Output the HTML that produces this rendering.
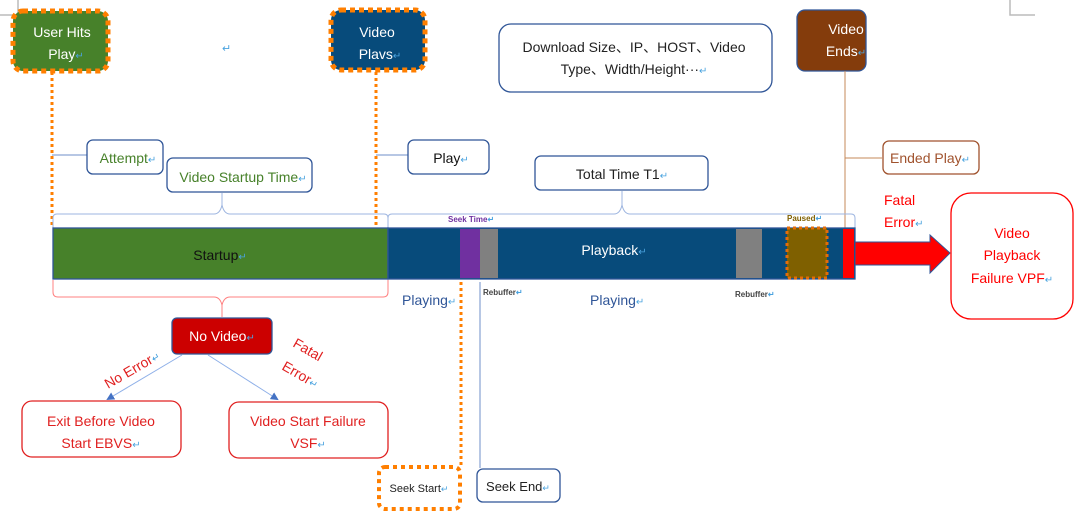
<!DOCTYPE html>
<html><head><meta charset="utf-8"><style>
html,body{margin:0;padding:0;background:#fff;width:1080px;height:521px;overflow:hidden}
svg{display:block;font-family:"Liberation Sans","Noto Sans CJK SC",sans-serif}
.r{fill:#4aa3df}
</style></head><body>
<svg width="1080" height="521" viewBox="0 0 1080 521" xmlns="http://www.w3.org/2000/svg">
<defs>
<marker id="ah" markerWidth="8" markerHeight="8" refX="6" refY="4" orient="auto"><path d="M0,0 L8,4 L0,8 z" fill="#4472c4"/></marker>
</defs>
<path d="M0,15 H18 V0" fill="none" stroke="#bbb" stroke-width="1.5"/>
<path d="M1010,0 V15 H1035" fill="none" stroke="#bbb" stroke-width="1.5"/>

<line x1="52" y1="72" x2="52" y2="228" stroke="#ff7f00" stroke-width="3" stroke-dasharray="3,3"/>
<line x1="376" y1="72" x2="376" y2="228" stroke="#ff7f00" stroke-width="3" stroke-dasharray="3,3"/>

<rect x="13" y="11" width="95" height="60" rx="10" fill="#47812a" stroke="#ff7f00" stroke-width="5" stroke-dasharray="5,4"/>
<text x="62" y="37" font-size="14" fill="#fff" text-anchor="middle">User Hits</text>
<text x="66" y="59" font-size="14" fill="#fff" text-anchor="middle">Play<tspan class="r" font-size="10">↵</tspan></text>
<text x="222" y="52" font-size="11" class="r">↵</text>

<rect x="331" y="10" width="94" height="60" rx="10" fill="#074b7b" stroke="#ff7f00" stroke-width="5" stroke-dasharray="5,4"/>
<text x="377" y="37" font-size="14" fill="#fff" text-anchor="middle">Video</text>
<text x="380" y="59" font-size="14" fill="#fff" text-anchor="middle">Plavs<tspan class="r" font-size="10">↵</tspan></text>

<rect x="499" y="24" width="273" height="68" rx="12" fill="#fff" stroke="#2f5597" stroke-width="1.3"/>
<text x="634" y="52" font-size="14" fill="#222" text-anchor="middle">Download Size、IP、HOST、Video</text>
<text x="634" y="74" font-size="14" fill="#222" text-anchor="middle">Type、Width/Height···<tspan class="r" font-size="10">↵</tspan></text>

<rect x="797" y="10" width="69" height="61" rx="8" fill="#843c0c" stroke="#2f5597" stroke-width="1.3"/>
<text x="846" y="34" font-size="14" fill="#fff" text-anchor="middle">Video</text>
<text x="846" y="56" font-size="14" fill="#fff" text-anchor="middle">Ends<tspan class="r" font-size="10">↵</tspan></text>
<line x1="845" y1="71" x2="845" y2="228" stroke="#c5895a" stroke-width="1"/>
<line x1="845" y1="158" x2="882" y2="158" stroke="#c5895a" stroke-width="1"/>
<rect x="883" y="141" width="96" height="33" rx="6" fill="#fff" stroke="#a0522d" stroke-width="1.3"/>
<text x="930" y="163" font-size="14" fill="#a0522d" text-anchor="middle">Ended Play<tspan class="r" font-size="10">↵</tspan></text>

<line x1="52" y1="155" x2="87" y2="155" stroke="#6f8fc8" stroke-width="1"/>
<rect x="87" y="140" width="76" height="34" rx="6" fill="#fff" stroke="#2f5597" stroke-width="1.3"/>
<text x="128" y="163" font-size="14" fill="#47812a" text-anchor="middle">Attempt<tspan class="r" font-size="10">↵</tspan></text>
<rect x="167" y="158" width="145" height="34" rx="6" fill="#fff" stroke="#2f5597" stroke-width="1.3"/>
<text x="243" y="182" font-size="14" fill="#47812a" text-anchor="middle">Video Startup Time<tspan class="r" font-size="10">↵</tspan></text>

<line x1="376" y1="155" x2="408" y2="155" stroke="#6f8fc8" stroke-width="1"/>
<rect x="408" y="140" width="81" height="34" rx="6" fill="#fff" stroke="#2f5597" stroke-width="1.3"/>
<text x="451" y="163" font-size="14" fill="#111" text-anchor="middle">Play<tspan class="r" font-size="10">↵</tspan></text>

<rect x="535" y="156" width="173" height="34" rx="6" fill="#fff" stroke="#2f5597" stroke-width="1.3"/>
<text x="622" y="179" font-size="14" fill="#222" text-anchor="middle">Total Time T1<tspan class="r" font-size="10">↵</tspan></text>

<path d="M53,228 V218 Q53,214 57,214 H214 Q220,214 222,205 V193 M222,205 Q224,214 230,214 H384 Q388,214 388,218 V228" fill="none" stroke="#9db5e0" stroke-width="1"/>
<path d="M388,228 V218 Q388,214 392,214 H614 Q620,214 622,205 V191 M622,205 Q624,214 630,214 H851 Q855,214 855,218 V228" fill="none" stroke="#9db5e0" stroke-width="1"/>

<rect x="53" y="228" width="335" height="51" fill="#47812a" stroke="#2f5597" stroke-width="1.3"/>
<text x="220" y="260" font-size="14" fill="#111" text-anchor="middle">Startup<tspan class="r" font-size="10">↵</tspan></text>
<rect x="388" y="228" width="467" height="51" fill="#074b7b" stroke="#2f5597" stroke-width="1.3"/>
<rect x="460" y="229" width="20" height="49" fill="#7030a0"/>
<rect x="480" y="229" width="18" height="49" fill="#808080"/>
<rect x="736" y="229" width="26" height="49" fill="#808080"/>
<rect x="787" y="228" width="40" height="50" fill="#7f6000" stroke="#e36c0a" stroke-width="3" stroke-dasharray="3,3"/>
<rect x="843" y="229" width="11" height="49" fill="#ff0000"/>
<text x="614" y="255" font-size="14" fill="#fff" text-anchor="middle">Playback<tspan class="r" font-size="10">↵</tspan></text>
<text x="448" y="222" font-size="8" font-weight="bold" fill="#7030a0">Seek Time<tspan class="r">↵</tspan></text>
<text x="787" y="221" font-size="8" font-weight="bold" fill="#7f6000">Paused<tspan class="r">↵</tspan></text>

<path d="M855,242 H930 V235 L950,253 L930,273 V265 H855 Z" fill="#ff0000" stroke="#2f5597" stroke-width="1"/>
<text x="884" y="205" font-size="14" fill="#ff0000">Fatal</text>
<text x="884" y="227" font-size="14" fill="#ff0000">Error<tspan class="r" font-size="10">↵</tspan></text>
<rect x="951" y="193" width="122" height="126" rx="20" fill="#fff" stroke="#ff0000" stroke-width="1.3"/>
<text x="1012" y="238" font-size="14" fill="#ff0000" text-anchor="middle">Video</text>
<text x="1012" y="260" font-size="14" fill="#ff0000" text-anchor="middle">Playback</text>
<text x="1012" y="283" font-size="14" fill="#ff0000" text-anchor="middle">Failure VPF<tspan class="r" font-size="10">↵</tspan></text>

<text x="402" y="305" font-size="14" fill="#2f5597">Playing<tspan class="r" font-size="10">↵</tspan></text>
<text x="590" y="305" font-size="14" fill="#2f5597">Playing<tspan class="r" font-size="10">↵</tspan></text>
<text x="483" y="295" font-size="8" font-weight="bold" fill="#444">Rebuffer<tspan class="r">↵</tspan></text>
<text x="735" y="297" font-size="8" font-weight="bold" fill="#444">Rebuffer<tspan class="r">↵</tspan></text>

<line x1="461" y1="282" x2="461" y2="467" stroke="#ff7f00" stroke-width="3" stroke-dasharray="3,3"/>
<line x1="480" y1="282" x2="480" y2="468" stroke="#6f8fc8" stroke-width="1"/>
<rect x="379" y="467" width="81" height="42" rx="6" fill="#fff" stroke="#ff7f00" stroke-width="4" stroke-dasharray="4,4"/>
<text x="419" y="492" font-size="11" fill="#222" text-anchor="middle">Seek Start<tspan class="r" font-size="9">↵</tspan></text>
<rect x="477" y="469" width="83" height="33" rx="6" fill="#fff" stroke="#2f5597" stroke-width="1.3"/>
<text x="518" y="491" font-size="13" fill="#222" text-anchor="middle">Seek End<tspan class="r" font-size="9">↵</tspan></text>

<path d="M53,280 V292 Q53,297 58,297 H214 Q220,297 222,305 V317 M222,305 Q224,297 230,297 H383 Q388,297 388,292 V280" fill="none" stroke="#ff8080" stroke-width="1"/>

<rect x="172" y="318" width="100" height="36" rx="5" fill="#cc0000" stroke="#2f5597" stroke-width="1.3"/>
<text x="222" y="341" font-size="14" fill="#fff" text-anchor="middle">No Video<tspan class="r" font-size="10">↵</tspan></text>
<line x1="182" y1="355" x2="108" y2="399" stroke="#8fb0e8" stroke-width="1" marker-end="url(#ah)"/>
<line x1="208" y1="355" x2="277" y2="399" stroke="#8fb0e8" stroke-width="1" marker-end="url(#ah)"/>
<text x="0" y="0" font-size="14" fill="#e02020" transform="translate(108,389) rotate(-30)">No Error<tspan class="r" font-size="10">↵</tspan></text>
<text x="0" y="0" font-size="14" fill="#e02020" transform="translate(292,346) rotate(30)">Fatal</text>
<text x="0" y="0" font-size="14" fill="#e02020" transform="translate(281,369) rotate(30)">Error<tspan class="r" font-size="10">↵</tspan></text>

<rect x="22" y="401" width="159" height="56" rx="10" fill="#fff" stroke="#e02020" stroke-width="1.3"/>
<text x="101" y="426" font-size="14" fill="#e02020" text-anchor="middle">Exit Before Video</text>
<text x="101" y="448" font-size="14" fill="#e02020" text-anchor="middle">Start EBVS<tspan class="r" font-size="10">↵</tspan></text>
<rect x="229" y="402" width="159" height="56" rx="10" fill="#fff" stroke="#e02020" stroke-width="1.3"/>
<text x="308" y="426" font-size="14" fill="#e02020" text-anchor="middle">Video Start Failure</text>
<text x="308" y="448" font-size="14" fill="#e02020" text-anchor="middle">VSF<tspan class="r" font-size="10">↵</tspan></text>
</svg>
</body></html>
